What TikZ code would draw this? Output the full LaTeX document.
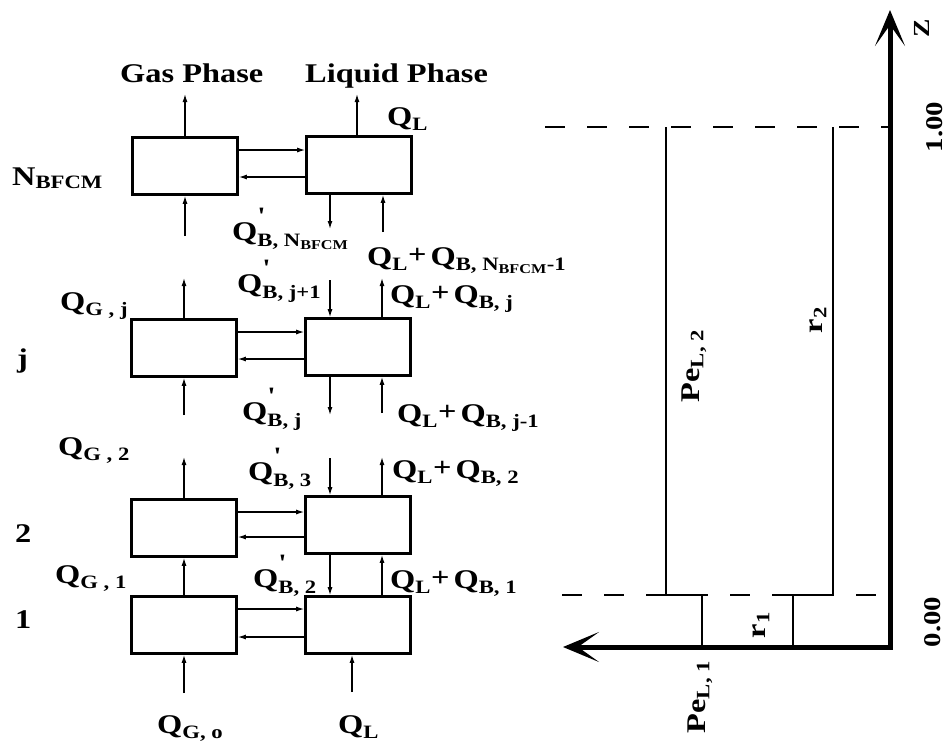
\documentclass[tikz,border=0pt]{standalone}
\usepackage{fontspec}
\usepackage{amsmath}
\setmainfont[FakeStretch=1.2,Ligatures=TeXOff]{Liberation Serif}
\usetikzlibrary{arrows.meta}
\newcommand\T[1]{\text{#1}}
\newcommand\pl{\text{\raisebox{2pt}{+}}}
\newcommand\pr{\text{\raisebox{4pt}{\fontsize{25}{25}\selectfont '}}}
\begin{document}
\begin{tikzpicture}[x=1pt,y=-1pt,
  box/.style={draw, line width=2.6pt, minimum width=105pt, minimum height=57pt, inner sep=0pt},
  arr/.style={line width=1.3pt, -{Latex[length=8pt,width=5pt]}},
  lbl/.style={font=\bfseries\fontsize{27}{30}\selectfont, inner sep=0pt, anchor=base west},
  rlbl/.style={font=\bfseries\fontsize{27}{30}\selectfont, inner sep=0pt, rotate=90},
  axisline/.style={line width=5pt, line join=miter,
     {Stealth[length=36pt,width=30pt,inset=21pt]}-{Stealth[length=36pt,width=30pt,inset=21pt]}},
  dline/.style={line width=1.8pt, dash pattern=on 20pt off 22pt},
  stepline/.style={line width=2.2pt}
]
\useasboundingbox (0,0) rectangle (947,748);

% boxes
\node[box] (gN) at (185,166) {};
\node[box] (lN) at (359,165) {};
\node[box] (gj) at (184,348) {};
\node[box] (lj) at (358,347) {};
\node[box] (g2) at (184,528) {};
\node[box] (l2) at (358,525) {};
\node[box] (g1) at (184,625) {};
\node[box] (l1) at (358,625) {};

% exchange arrows
\foreach \r in {N,j,2,1} {
  \draw[arr] ([yshift=16pt]g\r.east) -- ([yshift=16pt]g\r.east -| l\r.west);
  \draw[arr] ([yshift=-12pt]l\r.west) -- ([yshift=-12pt]l\r.west -| g\r.east);
}

% gas flows
\coordinate (gNo) at (185,94);  \draw[arr] (gN.north) -- (gNo);
\coordinate (gNi) at (185,236); \draw[arr] (gNi) -- (gN.south);
\coordinate (gjo) at (184,278); \draw[arr] (gj.north) -- (gjo);
\coordinate (gji) at (184,415); \draw[arr] (gji) -- (gj.south);
\coordinate (g2o) at (184,457); \draw[arr] (g2.north) -- (g2o);
\draw[arr] (g1.north) -- (g2.south);
\coordinate (g1i) at (184,693); \draw[arr] (g1i) -- (g1.south);

% liquid flows
\coordinate (lNo) at (357,94);  \draw[arr] (lN.north -| lNo) -- (lNo);
\coordinate (lNd) at (330,229); \draw[arr] (lN.south -| lNd) -- (lNd);
\coordinate (lNu) at (383,232); \draw[arr] (lNu) -- (lN.south -| lNu);
\coordinate (ljdi) at (330,280); \draw[arr] (ljdi) -- (lj.north -| ljdi);
\coordinate (ljuo) at (382,278); \draw[arr] (lj.north -| ljuo) -- (ljuo);
\coordinate (ljdo) at (330,415); \draw[arr] (lj.south -| ljdo) -- (ljdo);
\coordinate (ljui) at (382,413); \draw[arr] (ljui) -- (lj.south -| ljui);
\coordinate (l2di) at (330,458); \draw[arr] (l2di) -- (l2.north -| l2di);
\coordinate (l2uo) at (382,457); \draw[arr] (l2.north -| l2uo) -- (l2uo);
\draw[arr] (l2.south -| l2di) -- (l1.north -| l2di);
\draw[arr] (l1.north -| l2uo) -- (l2.south -| l2uo);
\coordinate (l1i) at (352,692); \draw[arr] (l1i) -- (l1.south -| l1i);

% labels
\node[lbl] (tgas) at (120,82) {Gas Phase};
\node[lbl] (tliq) at (305,82) {Liquid Phase};
\node[lbl] (qlt) at (387,125) {$\T{Q}_{\T{L}}$};
\node[lbl] (nb) at (12,185) {$\T{N}_{\T{BFCM}}$};
\node[lbl] (qbn) at (232,240) {$\T{Q}^{\pr}_{\T{B, N}_{\T{BFCM}}}$};
\node[lbl] (qlbn) at (367,265) {$\T{Q}_{\T{L}}\pl\,\T{Q}_{\T{B, N}_{\T{BFCM}}\T{-1}}$};
\node[lbl] (qbj1) at (237,292) {$\T{Q}^{\pr}_{\T{B, j+1}}$};
\node[lbl] (qlbj) at (390,303) {$\T{Q}_{\T{L}}\pl\,\T{Q}_{\T{B, j}}$};
\node[lbl] (qgj) at (60,310) {$\T{Q}_{\T{G , j}}$};
\node[lbl] (rj) at (17,367) {j};
\node[lbl] (qbj) at (242,420) {$\T{Q}^{\pr}_{\T{B, j}}$};
\node[lbl] (qlbj1) at (397,422) {$\T{Q}_{\T{L}}\pl\,\T{Q}_{\T{B, j-1}}$};
\node[lbl] (qg2) at (58,455) {$\T{Q}_{\T{G , 2}}$};
\node[lbl] (qb3) at (248,480) {$\T{Q}^{\pr}_{\T{B, 3}}$};
\node[lbl] (qlb2) at (392,478) {$\T{Q}_{\T{L}}\pl\,\T{Q}_{\T{B, 2}}$};
\node[lbl] (r2) at (15,542) {2};
\node[lbl] (qg1) at (55,583) {$\T{Q}_{\T{G , 1}}$};
\node[lbl] (qb2) at (253,587) {$\T{Q}^{\pr}_{\T{B, 2}}$};
\node[lbl] (qlb1) at (390,588) {$\T{Q}_{\T{L}}\pl\,\T{Q}_{\T{B, 1}}$};
\node[lbl] (r1) at (15,628) {1};
\node[lbl] (qg0) at (157,733) {$\T{Q}_{\T{G, o}}$};
\node[lbl] (qlb) at (338,733) {$\T{Q}_{\T{L}}$};

% right-hand sketch
\coordinate (O) at (890,647);
\coordinate (ztip) at (890,10);
\coordinate (xtip) at (563,647);
\coordinate (d1a) at (545,127); \coordinate (d1b) at (889,127);
\coordinate (d2a) at (562,595); \coordinate (d2b) at (882,595);
\draw[dline] (d1a) -- (d1b);
\draw[dline] (d2a) -- (d2b);
\draw[stepline, line width=2pt] (666,127) -- (666,595) -- (702,595) -- (702,647);
\draw[stepline, line width=2.8pt] (833,127) -- (833,595) -- (793,595) -- (793,647);
\draw[axisline] (ztip) -- (O) -- (xtip);

\node[rlbl] (pe2) at (694,366) {$\T{Pe}_{\T{L, 2}}$};
\node[rlbl] (rr2) at (818,320) {$\T{r}_{\T{2}}$};
\node[rlbl] (rr1) at (761,625) {$\T{r}_{\T{1}}$};
\node[rlbl] (pe1) at (700,697) {$\T{Pe}_{\T{L, 1}}$};
\node[rlbl, font=\bfseries\fontsize{23}{26}\selectfont] (zl) at (922,28) {Z};
\node[rlbl, font=\bfseries\fontsize{24}{27}\selectfont] (one) at (935,127) {1.00};
\node[rlbl, font=\bfseries\fontsize{24}{27}\selectfont] (zero) at (933,622) {0.00};
\end{tikzpicture}
\end{document}
